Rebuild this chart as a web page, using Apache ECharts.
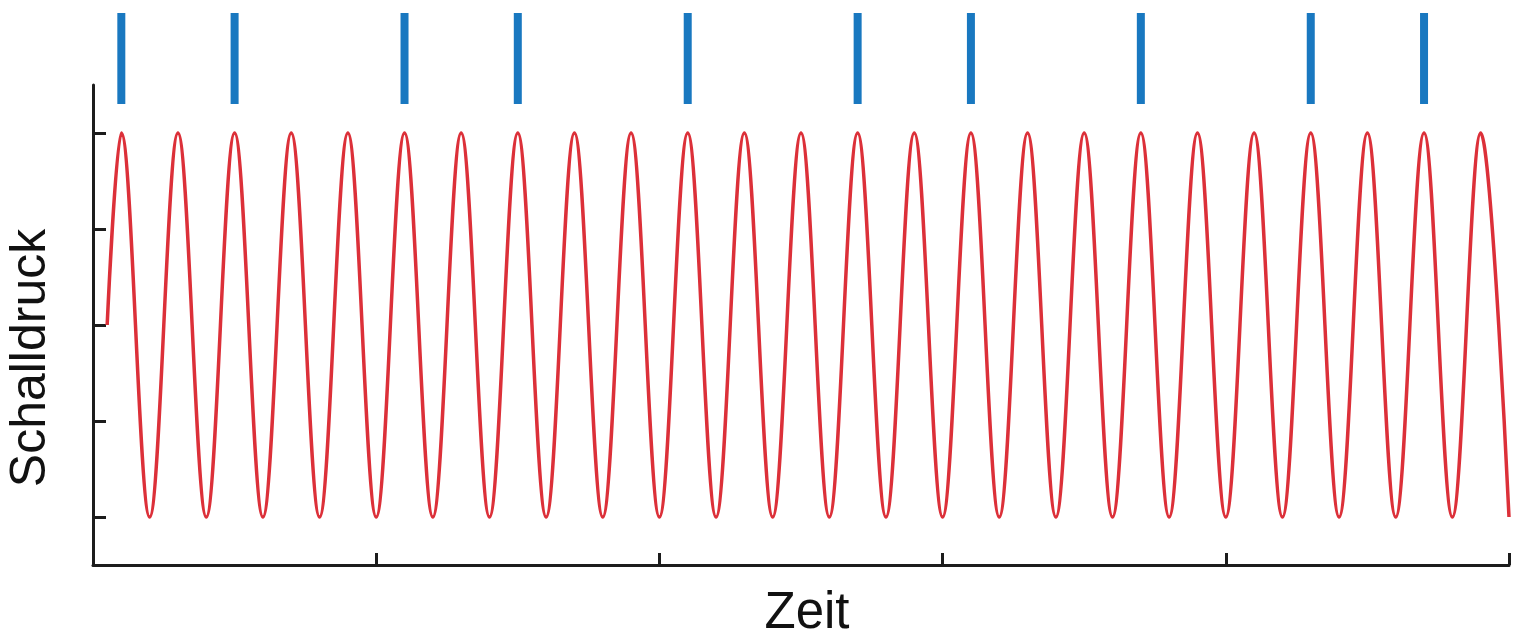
<!DOCTYPE html>
<html>
<head>
<meta charset="utf-8">
<script src="https://cdn.jsdelivr.net/npm/echarts@6/dist/echarts.min.js"></script>
<style>
html,body{margin:0;padding:0;background:#fff;}
#chart{width:1522px;height:639px;}
</style>
</head>
<body>
<div id="chart"></div>
<script>
// Time of each extreme (and start) of the sound-pressure wave
const waveTimes = [0.05,
  0.1,0.2,0.3,0.4,0.5,0.6,0.7,0.8,0.9,1.0,
  1.1,1.2,1.3,1.4,1.5,1.6,1.7,1.8,1.9,2.0,
  2.1,2.2,2.3,2.4,2.5,2.6,2.7,2.8,2.9,3.0,
  3.1,3.2,3.3,3.4,3.5,3.6,3.7,3.8,3.9,4.0,
  4.1,4.2,4.3,4.4,4.5,4.6,4.7,4.8,4.9,5.0];
const waveValues = [0,
  2,-2,2,-2,2,-2,2,-2,2,-2,
  2,-2,2,-2,2,-2,2,-2,2,-2,
  2,-2,2,-2,2,-2,2,-2,2,-2,
  2,-2,2,-2,2,-2,2,-2,2,-2,
  2,-2,2,-2,2,-2,2,-2,2,-2];
// Nerve spikes (phase-locked to pressure maxima)
const spikeTimes = [0.1, 0.5, 1.1, 1.5, 2.1, 2.7, 3.1, 3.7, 4.3, 4.7];
const yTicks = [-2, -1, 0, 1, 2];
const xTicks = [1, 2, 3, 4, 5];
const xName = 'Zeit';
const yName = 'Schalldruck';

const wave = waveTimes.map((t, i) => [t, waveValues[i]]);
const spikes = spikeTimes.map(t => [t, 1]);

const axisColor = '#1c1c1c';
const chart = echarts.init(document.getElementById('chart'), null, {renderer: 'canvas'});
chart.setOption({
  animation: false,
  backgroundColor: '#ffffff',
  grid: [
    {left: 93, right: 13, top: 85, height: 480},
    {left: 93, right: 13, top: 13, height: 91}
  ],
  xAxis: [
    {
      type: 'value', gridIndex: 0, min: 0, max: 5,
      axisLine: {show: true, onZero: false, lineStyle: {color: axisColor, width: 3}},
      axisTick: {show: true, inside: true, length: 12, customValues: xTicks, lineStyle: {color: axisColor, width: 3}},
      axisLabel: {show: false},
      splitLine: {show: false}
    },
    {
      type: 'value', gridIndex: 1, min: 0, max: 5, show: false
    }
  ],
  yAxis: [
    {
      type: 'value', gridIndex: 0, min: -2.5, max: 2.5,
      axisLine: {show: true, onZero: false, lineStyle: {color: axisColor, width: 3}},
      axisTick: {show: true, inside: true, length: 13, customValues: yTicks, lineStyle: {color: axisColor, width: 3}},
      axisLabel: {show: false},
      splitLine: {show: false}
    },
    {
      type: 'value', gridIndex: 1, min: 0, max: 1, show: false
    }
  ],
  series: [
    {
      type: 'line', xAxisIndex: 0, yAxisIndex: 0,
      data: wave, smooth: 0.3634, showSymbol: false, symbol: 'none',
      lineStyle: {color: '#dc3039', width: 3.5},
      clip: false, z: 3
    },
    {
      type: 'bar', xAxisIndex: 1, yAxisIndex: 1,
      data: spikes, barWidth: 8,
      itemStyle: {color: '#1978c0'}
    }
  ],
  graphic: [
    {
      type: 'text', x: 31, y: 358, rotation: Math.PI / 2,
      style: {text: yName, font: '50px "Liberation Sans", Arial, sans-serif', fill: '#111', align: 'center', verticalAlign: 'middle'}
    },
    {
      type: 'text', x: 807, y: 614,
      style: {text: xName, font: '51px "Liberation Sans", Arial, sans-serif', fill: '#111', align: 'center', verticalAlign: 'middle'}
    }
  ]
});
</script>
</body>
</html>
